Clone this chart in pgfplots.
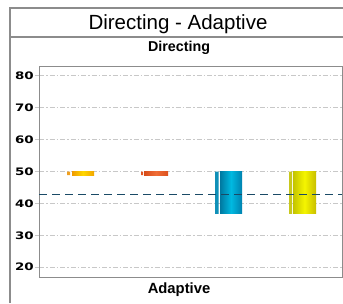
\documentclass[border=0pt]{standalone}
\usepackage{fontspec}
\setmainfont{Liberation Sans}
\newfontfamily\tickfont[FakeStretch=1.3]{DejaVu Sans}
\usepackage{pgfplots}
\pgfplotsset{compat=1.18}
\definecolor{framegray}{HTML}{8C8C8C}
\definecolor{gridgray}{HTML}{C8C8C8}
\definecolor{meanline}{HTML}{1A4A66}
\begin{document}
\begin{tikzpicture}[x=1pt,y=1pt]
\useasboundingbox (0,0) rectangle (343,303);
% outer frame
\draw[framegray, line width=1.3pt] (10,0) -- (10,295) -- (343,295);
\draw[framegray, line width=1.3pt] (10,266) -- (343,266);
\node[font=\fontsize{20.5}{24}\selectfont] at (178,279) {Directing - Adaptive};
\node[font=\bfseries\fontsize{14.3}{17}\selectfont] at (179,255) {Directing};
\node[font=\bfseries\fontsize{14.8}{17}\selectfont] at (179,13) {Adaptive};
\begin{axis}[
  at={(39pt,26pt)}, anchor=south west,
  scale only axis, width=303pt, height=210pt,
  xmin=0, xmax=303, ymin=16.9, ymax=82.8,
  xtick=\empty,
  ytick={20,30,...,80},
  ymajorgrids,
  major grid style={gridgray, line width=0.9pt, dash pattern=on 5pt off 2pt on 1.5pt off 2pt},
  axis line style={framegray, line width=1pt},
  tick style={gridgray, line width=0.9pt},
  major tick length=4pt,
  tick align=outside,
  ytick pos=left,
  /pgf/number format/assume math mode=true,
  yticklabel style={font=\tickfont\bfseries\fontsize{10.3}{12}\selectfont, inner xsep=1pt},
  axis on top=false,
  clip=false,
]
% bar 1
\addplot[draw=none, fill={rgb,255:red,240;green,160;blue,32}] coordinates {(28,50) (31,50) (31,48.9) (28,48.9) (28,50)};
\addplot[draw=none, left color={rgb,255:red,240;green,155;blue,0}, right color={rgb,255:red,242;green,165;blue,0}, middle color={rgb,255:red,255;green,215;blue,0}] coordinates {(33,50) (55,50) (55,48.9) (33,48.9) (33,50)};
% bar 2
\addplot[draw=none, fill={rgb,255:red,225;green,85;blue,35}] coordinates {(102,50) (104,50) (104,48.9) (102,48.9) (102,50)};
\addplot[draw=none, left color={rgb,255:red,215;green,75;blue,25}, right color={rgb,255:red,220;green,80;blue,30}, middle color={rgb,255:red,240;green,110;blue,55}] coordinates {(105,50) (129,50) (129,48.9) (105,48.9) (105,50)};
% bar 3
\addplot[draw=none, fill={rgb,255:red,16;green,144;blue,184}] coordinates {(176,50) (179.5,50) (179.5,36.7) (176,36.7) (176,50)};
\addplot[draw=none, left color={rgb,255:red,0;green,120;blue,160}, right color={rgb,255:red,0;green,130;blue,175}, middle color={rgb,255:red,0;green,185;blue,225}] coordinates {(181,50) (203,50) (203,36.7) (181,36.7) (181,50)};
% bar 4
\addplot[draw=none, fill={rgb,255:red,200;green,200;blue,30}] coordinates {(250,50) (253,50) (253,36.7) (250,36.7) (250,50)};
\addplot[draw=none, left color={rgb,255:red,195;green,195;blue,0}, right color={rgb,255:red,200;green,190;blue,0}, middle color={rgb,255:red,245;green,245;blue,0}] coordinates {(254,50) (277,50) (277,36.7) (254,36.7) (254,50)};
% mean line
\addplot[meanline, line width=1.4pt, dash pattern=on 8pt off 5pt] coordinates {(0,42.7) (303,42.7)};
\end{axis}
\end{tikzpicture}
\end{document}
